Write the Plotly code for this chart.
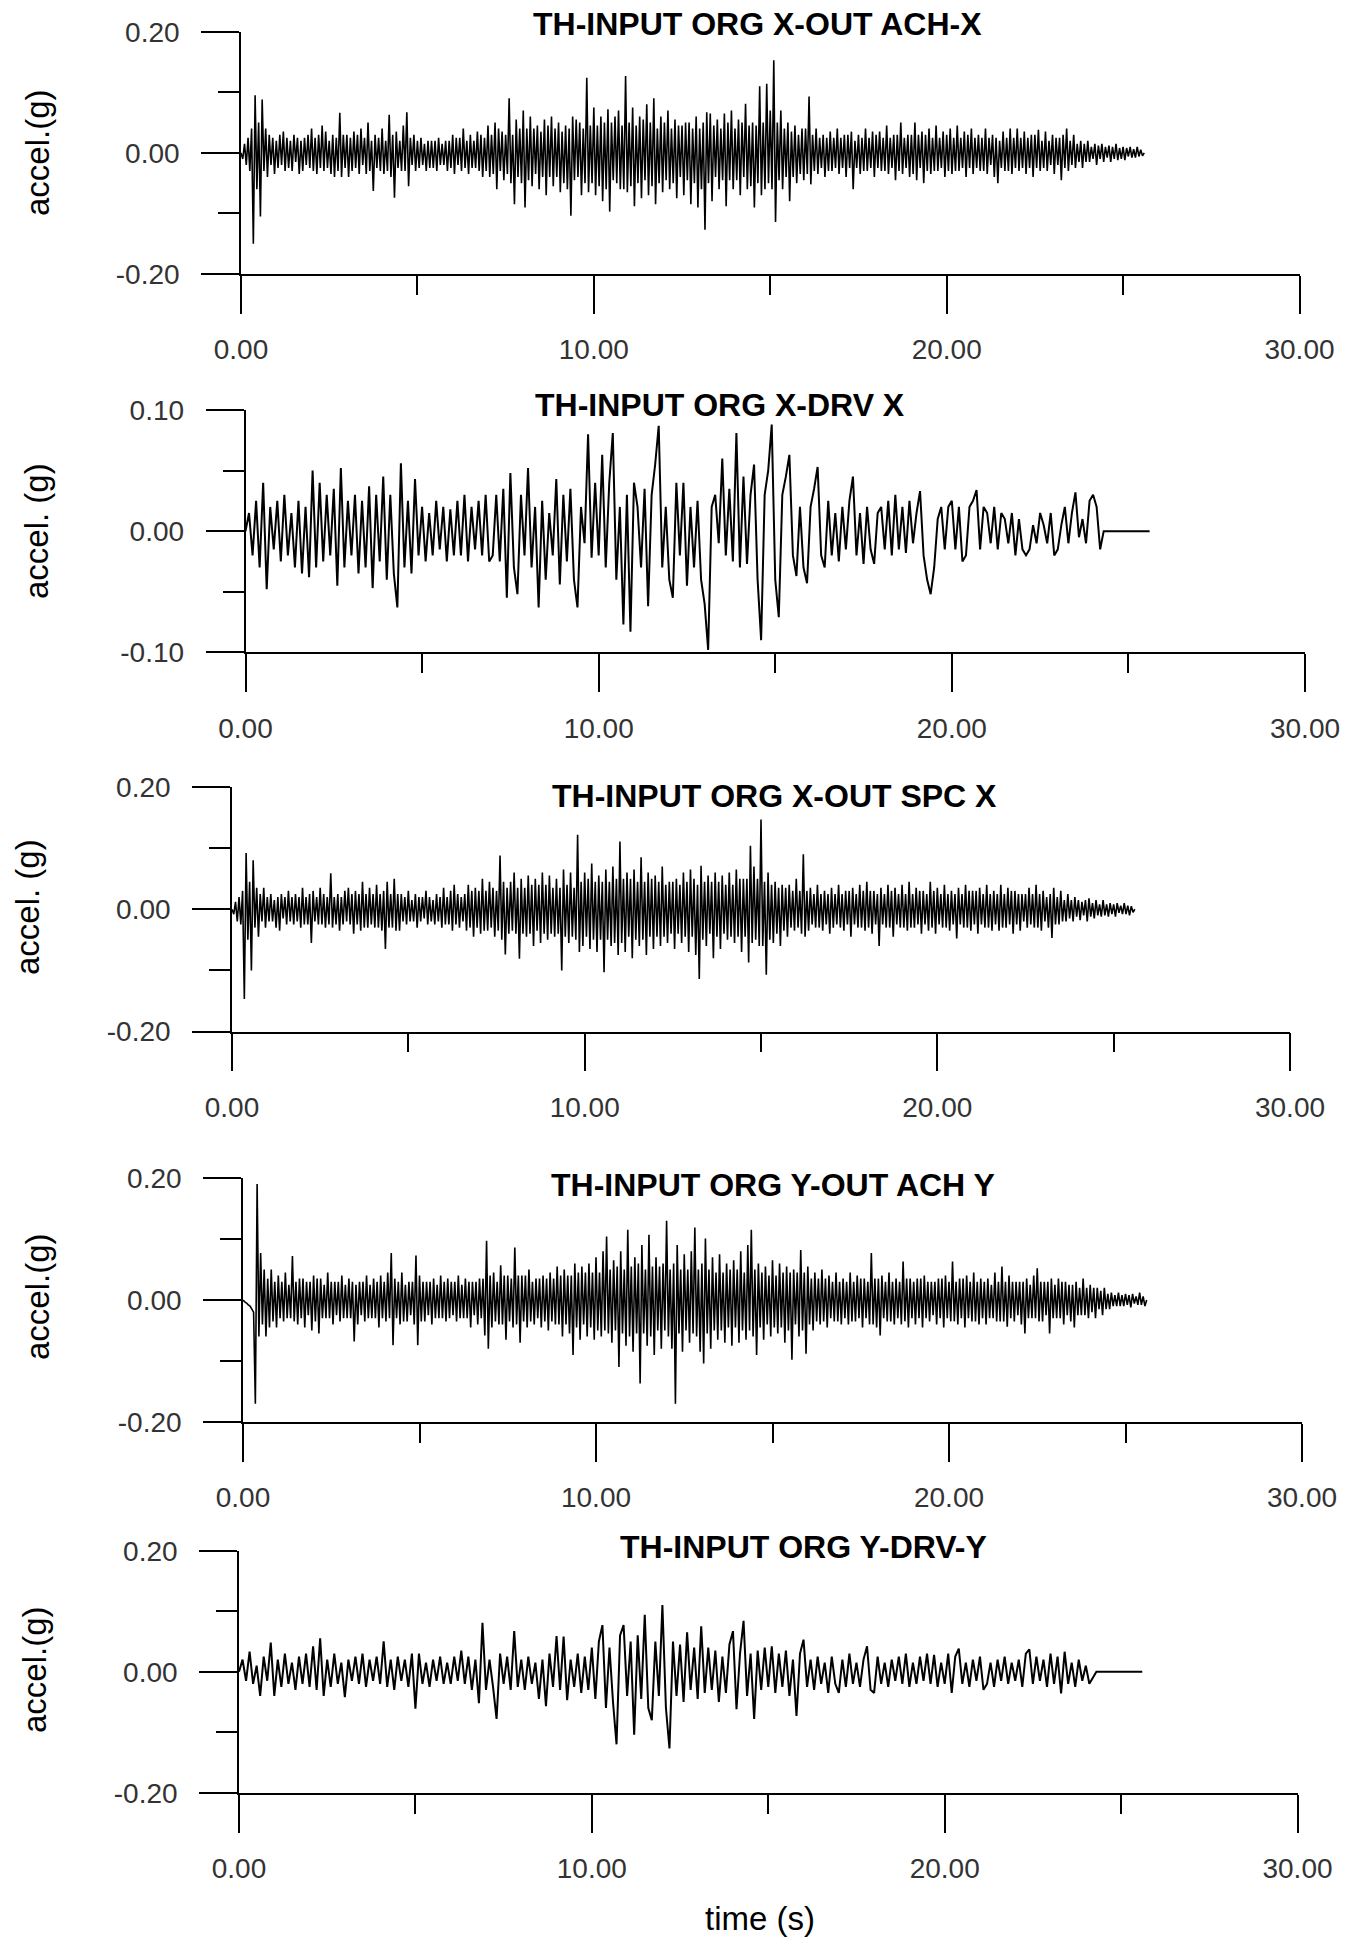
import plotly.graph_objects as go

# ---------------- data (accelerations in milli-g) ----------------
dense_step = 0.05      # s, ACH-X / SPC-X / ACH-Y records
drv_step = 0.1         # s, DRV-X / DRV-Y records
drv_end_time = 25.6    # s, drive records hold zero until here

ach_x_mg = [
    0, -10, 15, -20, 25, -30, 40, -150, 95, -60, 50, -105, 88, -30, 40, -40, 30, -20, 25, -35,
    20, -25, 30, -20, 35, -30, 25, -25, 20, -30, 30, -15, 25, -35, 20, -30, 25, -20, 30, -25,
    40, -30, 25, -35, 30, -25, 45, -30, 35, -25, 20, -35, 30, -40, 25, -30, 66, -40, 30, -25,
    30, -40, 25, -30, 35, -25, 30, -35, 40, -20, 25, -35, 50, -30, 20, -63, 30, -25, 25, -30,
    40, -35, 20, -30, 63, -40, 30, -74, 35, -25, 20, -30, 45, -30, 67, -55, 25, -20, 30, -30,
    20, -25, 25, -20, 15, -30, 20, -25, 20, -25, 20, -30, 25, -20, 15, -20, 20, -30, 20, -25,
    30, -35, 25, -20, 25, -30, 40, -25, 20, -35, 30, -25, 20, -25, 35, -30, 30, -40, 25, -30,
    45, -40, 30, -35, 50, -60, 40, -30, 35, -45, 30, -35, 90, -50, 30, -85, 55, -40, 40, -50,
    70, -90, 40, -45, 60, -55, 40, -35, 45, -60, 35, -40, 55, -70, 45, -40, 60, -55, 40, -40,
    50, -65, 35, -50, 45, -60, 40, -104, 60, -45, 55, -40, 50, -70, 40, -50, 124, -65, 45, -50,
    75, -70, 45, -55, 60, -80, 50, -60, 72, -97, 50, -45, 60, -50, 70, -60, 45, -60, 127, -65,
    50, -55, 75, -88, 45, -50, 60, -75, 55, -45, 80, -70, 50, -55, 90, -85, 40, -50, 60, -65,
    50, -45, 70, -60, 40, -50, 55, -75, 45, -40, 45, -70, 50, -45, 50, -85, 40, -50, 60, -90,
    40, -60, 50, -127, 67, -50, 65, -80, 45, -40, 55, -60, 40, -45, 65, -88, 50, -45, 70, -60,
    40, -45, 55, -70, 50, -40, 81, -60, 45, -55, 50, -90, 45, -50, 110, -70, 50, -60, 114, -50,
    70, -60, 153, -114, 50, -45, 70, -60, 40, -40, 50, -80, 35, -40, 45, -50, 30, -35, 40, -45,
    40, -35, 93, -52, 30, -30, 40, -35, 25, -25, 30, -40, 25, -30, 35, -30, 25, -25, 40, -35,
    25, -25, 30, -40, 30, -25, 35, -60, 20, -25, 30, -35, 25, -30, 40, -30, 25, -25, 35, -40,
    30, -25, 35, -30, 25, -30, 45, -35, 25, -25, 30, -45, 30, -30, 50, -35, 25, -25, 30, -40,
    30, -35, 50, -45, 30, -25, 35, -50, 30, -30, 40, -35, 25, -30, 45, -30, 25, -25, 35, -40,
    30, -30, 40, -35, 25, -30, 45, -30, 25, -25, 35, -40, 30, -25, 40, -35, 25, -25, 30, -30,
    25, -30, 40, -35, 25, -20, 30, -40, 25, -50, 20, -25, 35, -30, 25, -30, 40, -35, 25, -25,
    40, -30, 25, -25, 35, -35, 25, -25, 30, -40, 30, -25, 38, -30, 20, -25, 35, -30, 20, -20,
    30, -35, 25, -20, 25, -45, 30, -25, 40, -30, 20, -20, 30, -25, 15, -15, 20, -25, 15, -15,
    20, -15, 10, -10, 15, -20, 12, -10, 15, -15, 10, -8, 12, -15, 10, -10, 15, -12, 8, -10,
    10, -12, 8, -6, 10, -8, 6, -8, 10, -6, 5, -5, 0,
]

drv_x_mg = [
    0, 15, -20, 25, -30, 40, -48, 20, -15, 25,
    -25, 30, -20, 15, -30, 25, -35, 20, -38, 50,
    -30, 40, -25, 30, -20, 35, -45, 52, -30, 25,
    -20, 30, -35, 25, -30, 37, -47, 30, -25, 45,
    -40, 30, -35, -63, 56, -30, 25, -35, 43, -20,
    20, -25, 15, -20, 25, -15, 20, -25, 18, -20,
    25, -20, 30, -25, 20, -15, 25, -20, 30, -25,
    -20, 30, -25, 35, -55, 48, -30, -52, 30, -20,
    52, -30, 20, -63, 25, -40, 15, -20, 43, -44,
    30, -25, 35, -40, -63, 20, -10, 80, -22, 40,
    -20, 63, -30, 40, 81, -40, 20, -77, 30, -83,
    40, 20, -30, 35, -62, 30, 55, 87, -30, 20,
    -40, -55, 40, -20, 40, -45, 20, -30, 25, -40,
    -60, -98, 20, 30, -10, 60, -20, 35, -25, 81,
    -30, 45, -27, 30, 55, -40, -90, 30, 50, 88,
    -40, -71, 30, 45, 63, -20, -37, 20, -30, -43,
    20, 35, 53, -20, -30, 25, -20, 15, -25, 20,
    -15, 25, 45, -20, 15, -27, 20, -15, -27, 15,
    20, -15, 25, -20, 30, -15, 20, -18, 25, -10,
    15, 33, -20, -40, -52, -30, 10, 20, -15, 20,
    25, -15, 20, -25, -20, 20, 25, 34, -15, 20,
    15, -10, 20, -15, 15, 10, -10, 15, -20, 10,
    -15, -20, -15, 5, -10, 15, 5, -10, 15, -20,
    -15, 5, 20, -10, 15, 32, -5, 10, -10, 25,
    30, 20, -15, 0,
]

spc_x_mg = [
    0, -8, 12, -20, 20, -25, 30, -147, 92, -50, 45, -100, 80, -30, 35, -45, 25, -20, 35, -30,
    20, -20, 25, -20, 15, -30, 20, -35, 25, -15, 20, -25, 30, -20, 20, -25, 25, -20, 20, -30,
    35, -25, 20, -25, 25, -55, 30, -20, 20, -25, 35, -25, 25, -30, 20, -25, 59, -30, 20, -25,
    25, -35, 20, -25, 30, -20, 35, -25, 25, -40, 30, -25, 25, -35, 45, -30, 25, -30, 35, -25,
    25, -30, 40, -30, 25, -35, 30, -65, 45, -30, 25, -30, 50, -35, 25, -35, 25, -20, 20, -25,
    30, -20, 15, -20, 25, -30, 20, -20, 20, -15, 30, -25, 20, -20, 15, -25, 25, -20, 20, -30,
    35, -25, 20, -25, 30, -35, 40, -25, 25, -30, 20, -20, 25, -35, 40, -30, 30, -45, 35, -30,
    30, -40, 50, -35, 30, -35, 45, -30, 35, -45, 30, -35, 88, -50, 45, -74, 35, -40, 45, -35,
    60, -40, 35, -81, 50, -40, 35, -45, 55, -40, 40, -60, 50, -35, 40, -55, 60, -40, 40, -50,
    55, -40, 35, -45, 50, -40, 35, -100, 65, -45, 40, -55, 60, -45, 35, -50, 122, -70, 45, -60,
    60, -45, 50, -65, 75, -50, 45, -70, 55, -50, 45, -103, 65, -50, 45, -60, 70, -55, 50, -75,
    111, -55, 50, -70, 60, -45, 50, -80, 65, -50, 45, -60, 85, -50, 45, -75, 60, -45, 50, -65,
    55, -45, 45, -60, 70, -45, 40, -55, 45, -40, 45, -65, 50, -40, 40, -55, 60, -45, 45, -70,
    65, -45, 50, -75, 40, -114, 71, -50, 45, -60, 55, -40, 45, -80, 60, -45, 45, -65, 55, -40,
    40, -50, 60, -45, 40, -55, 65, -45, 50, -70, 50, -45, 50, -87, 104, -55, 70, -50, 50, -60,
    147, -60, 45, -107, 60, -50, 40, -55, 45, -40, 35, -60, 40, -35, 35, -45, 40, -30, 30, -35,
    50, -30, 30, -40, 90, -45, 30, -35, 35, -25, 25, -30, 40, -30, 25, -35, 30, -25, 25, -40,
    35, -30, 25, -25, 40, -30, 25, -35, 30, -25, 30, -45, 35, -25, 25, -30, 40, -30, 30, -35,
    45, -30, 30, -40, 30, -25, 25, -60, 35, -25, 25, -30, 40, -30, 30, -45, 35, -25, 25, -30,
    40, -30, 25, -35, 45, -30, 25, -30, 35, -25, 30, -40, 30, -25, 25, -35, 45, -30, 30, -40,
    35, -25, 25, -30, 40, -30, 25, -35, 30, -25, 25, -48, 35, -25, 25, -30, 40, -30, 30, -35,
    30, -25, 30, -40, 35, -25, 25, -30, 40, -30, 25, -35, 30, -25, 25, -35, 40, -30, 25, -30,
    35, -25, 30, -40, 30, -25, 25, -35, 25, -20, 25, -30, 35, -25, 25, -30, 40, -30, 25, -35,
    30, -20, 20, -30, 25, -47, 35, -25, 20, -25, 30, -20, 15, -20, 25, -15, 15, -20, 20, -12,
    15, -18, 12, -10, 15, -20, 18, -12, 10, -15, 15, -10, 8, -12, 15, -10, 8, -12, 10, -8,
    8, -12, 10, -6, 6, -8, 10, -8, 6, -10, 5, -5, 0,
]

ach_y_mg = [
    0, -3, -5, -8, -10, -15, -20, -170, 190, -60, 77, -40, 50, -60, 35, -45, 50, -35, 30, -45,
    40, -30, 30, -35, 45, -30, 25, -30, 72, -35, 30, -40, 35, -30, 35, -45, 30, -25, 30, -50,
    40, -35, 35, -55, 35, -30, 25, -30, 45, -30, 30, -40, 30, -25, 30, -35, 40, -30, 25, -30,
    35, -30, 30, -68, 25, -40, 30, -25, 30, -35, 40, -30, 25, -30, 35, -30, 30, -45, 40, -30,
    30, -35, 45, -30, 77, -74, 35, -30, 30, -40, 45, -35, 25, -35, 30, -25, 30, -40, 73, -74,
    40, -35, 30, -35, 30, -25, 30, -40, 35, -30, 25, -30, 40, -30, 30, -35, 35, -30, 30, -25,
    30, -35, 40, -30, 25, -30, 35, -30, 30, -45, 30, -25, 30, -40, 35, -30, 35, -58, 97, -80,
    40, -45, 45, -35, 30, -40, 57, -40, 40, -65, 40, -35, 35, -45, 86, -40, 40, -70, 40, -35,
    40, -45, 50, -35, 30, -40, 35, -30, 35, -45, 40, -35, 35, -50, 45, -35, 35, -40, 55, -40,
    40, -60, 50, -40, 40, -55, 40, -90, 60, -45, 45, -65, 55, -40, 45, -60, 60, -45, 45, -65,
    70, -50, 45, -60, 80, -50, 104, -55, 50, -70, 65, -50, 55, -110, 80, -55, 50, -75, 115, -60,
    55, -85, 70, -55, 60, -137, 90, -55, 50, -75, 107, -60, 55, -90, 70, -50, 55, -80, 60, -50,
    130, -60, 50, -80, 60, -170, 90, -55, 50, -85, 75, -50, 50, -70, 80, -55, 119, -60, 50, -85,
    60, -104, 101, -55, 50, -80, 70, -50, 45, -65, 75, -50, 45, -70, 60, -45, 50, -75, 65, -45,
    50, -70, 80, -50, 45, -65, 90, -50, 115, -60, 50, -90, 60, -45, 45, -65, 55, -40, 40, -60,
    65, -45, 40, -55, 60, -45, 45, -70, 55, -50, 45, -98, 50, -40, 45, -60, 82, -50, 45, -88,
    55, -40, 35, -50, 45, -35, 35, -40, 50, -35, 35, -45, 40, -30, 30, -35, 45, -35, 30, -40,
    35, -30, 30, -40, 45, -35, 30, -35, 40, -30, 35, -45, 35, -30, 30, -40, 77, -40, 35, -45,
    35, -58, 40, -30, 30, -35, 45, -35, 30, -40, 35, -30, 30, -40, 63, -35, 35, -45, 35, -30,
    30, -40, 35, -30, 35, -45, 40, -30, 30, -35, 30, -25, 30, -40, 35, -30, 35, -45, 40, -30,
    30, -35, 63, -35, 30, -40, 35, -30, 35, -45, 40, -30, 30, -35, 45, -35, 30, -40, 35, -30,
    30, -40, 35, -30, 25, -30, 45, -35, 30, -35, 55, -35, 30, -44, 40, -30, 30, -35, 30, -25,
    30, -40, 30, -55, 35, -30, 25, -30, 40, -30, 52, -35, 30, -35, 30, -25, 30, -55, 35, -30,
    25, -30, 35, -30, 30, -40, 30, -25, 25, -35, 25, -45, 30, -25, 20, -25, 35, -25, 20, -30,
    25, -20, 20, -30, 20, -15, 15, -25, 20, -15, 10, -15, 12, -10, 8, -10, 12, -10, 8, -10,
    10, -8, 8, -12, 10, -6, 6, -8, 12, -8, 6, -10, 0,
]

drv_y_mg = [
    0, 20, -15, 33, -20, 10, -40, 25, -15, 48,
    -40, 20, -25, 30, -20, 15, -30, 25, -20, 30,
    -25, 42, -30, 55, -40, 20, -25, 30, -20, 15,
    -42, 20, -15, 25, -20, 30, -25, 20, -15, 25,
    -20, 50, -25, 20, -30, 25, -15, 20, -25, 30,
    -61, 30, -20, 15, -25, 20, -15, 25, -20, 15,
    -20, 25, -15, 35, -20, 25, -30, 20, -52, 81,
    -30, 20, -25, -78, 30, -20, 25, -30, 67, -25,
    20, -30, 25, -20, 15, -45, 20, -57, 30, -25,
    59, -30, 58, -47, 20, -25, 30, -35, 25, -30,
    40, -45, 50, 77, -60, 40, -50, -120, 60, 77,
    -40, 50, -104, 60, -45, 94, -60, -80, 50, -40,
    110, -60, -127, 50, -40, 45, -50, 65, -30, 40,
    -45, 75, -35, 40, -30, 35, -50, 25, -35, 45,
    67, -62, 30, 84, -40, 30, -78, 35, -30, 40,
    -25, 42, -35, 30, -25, 35, -40, 20, -73, 30,
    53, -25, 20, -30, 25, -20, 15, -35, 25, -20,
    -35, 20, -25, 30, -20, 15, -25, 20, 42, -30,
    -35, 25, -20, 15, -25, 20, -15, 25, -20, 30,
    -25, 15, -20, 25, -15, 30, -20, 28, -25, 15,
    -20, 30, -35, 25, 38, -20, 15, -25, 20, -15,
    25, -30, -20, 15, -25, 20, -15, 25, -20, 15,
    -15, 20, -25, 30, 37, -20, 25, -15, 20, -25,
    30, -20, 25, -36, 33, -20, 15, -25, 20, -15,
    10, -20, -10, 0,
]

panel_titles = [
    "TH-INPUT ORG X-OUT ACH-X",
    "TH-INPUT ORG X-DRV X",
    "TH-INPUT ORG X-OUT SPC X",
    "TH-INPUT ORG Y-OUT ACH Y",
    "TH-INPUT ORG Y-DRV-Y",
]
y_titles = ["accel.(g)", "accel. (g)", "accel. (g)", "accel.(g)", "accel.(g)"]
x_title = "time (s)"
x_tick_vals = [0, 10, 20, 30]
x_tick_text = ["0.00", "10.00", "20.00", "30.00"]
x_minor_vals = [5, 15, 25]
y_limits = [0.20, 0.10, 0.20, 0.20, 0.20]
series = [ach_x_mg, drv_x_mg, spc_x_mg, ach_y_mg, drv_y_mg]
steps = [dense_step, drv_step, dense_step, dense_step, drv_step]
hold_to_end = [False, True, False, False, True]

# ---------------- layout geometry (pixels) ----------------
W, H = 1360, 1937
# (left, right, top, bottom) of each plotting box
boxes = [
    (241.0, 1299.5, 31.7, 274.0),
    (245.5, 1305.0, 410.0, 652.3),
    (232.0, 1290.0, 787.0, 1031.5),
    (243.0, 1302.0, 1178.0, 1422.0),
    (239.0, 1297.5, 1550.7, 1792.7),
]
title_pos = [(757, 24), (720, 405), (774.5, 795.5), (772.6, 1184.7), (803.5, 1547)]
ylab_pos = [(37, 153), (37, 531), (27, 907), (37, 1297), (34, 1670)]
xlab_pos = (759.6, 1918)
trace_widths = [1.6, 2.0, 1.6, 1.6, 2.0]

FONT = "Liberation Sans, Arial, sans-serif"
TICK_FONT = dict(family=FONT, size=28, color="#333333")
LINE_W = 1.6

fig = go.Figure()
annotations = []
for i in range(5):
    n = i + 1
    vals = series[i]
    t = [k * steps[i] for k in range(len(vals))]
    y = [v / 1000.0 for v in vals]
    if hold_to_end[i]:
        t.append(drv_end_time)
        y.append(0.0)
    fig.add_trace(go.Scatter(
        x=t, y=y, mode="lines",
        line=dict(color="black", width=trace_widths[i], simplify=False),
        xaxis="x" if n == 1 else f"x{n}",
        yaxis="y" if n == 1 else f"y{n}",
        showlegend=False, hoverinfo="skip",
    ))

    left, right, top, bottom = boxes[i]
    lim = y_limits[i]
    xa = dict(
        domain=[left / W, right / W],
        anchor="y" if n == 1 else f"y{n}",
        range=[0, 30],
        tickmode="array", tickvals=x_tick_vals, ticktext=x_tick_text,
        ticks="outside", ticklen=38, tickwidth=LINE_W, tickcolor="black",
        minor=dict(tickmode="array", tickvals=x_minor_vals, ticks="outside",
                   ticklen=19, tickwidth=LINE_W, tickcolor="black", showgrid=False),
        showline=True, linecolor="black", linewidth=LINE_W,
        showgrid=False, zeroline=False, automargin=False,
        tickfont=TICK_FONT, ticklabelstandoff=12,
        fixedrange=True,
    )
    ya = dict(
        domain=[1 - bottom / H, 1 - top / H],
        anchor="x" if n == 1 else f"x{n}",
        range=[-lim, lim],
        tickmode="array", tickvals=[-lim, 0, lim],
        ticktext=[f"{-lim:.2f}", "0.00", f"{lim:.2f}"],
        ticks="outside", ticklen=38, tickwidth=LINE_W, tickcolor="black",
        minor=dict(tickmode="array", tickvals=[-lim / 2, lim / 2], ticks="outside",
                   ticklen=21, tickwidth=LINE_W, tickcolor="black", showgrid=False),
        showline=True, linecolor="black", linewidth=LINE_W,
        showgrid=False, zeroline=False, automargin=False,
        tickfont=TICK_FONT, ticklabelstandoff=16,
        fixedrange=True,
    )
    fig.update_layout(**{("xaxis" if n == 1 else f"xaxis{n}"): xa,
                         ("yaxis" if n == 1 else f"yaxis{n}"): ya})

    tx, ty = title_pos[i]
    annotations.append(dict(
        text=panel_titles[i], xref="paper", yref="paper",
        x=tx / W, y=1 - ty / H, xanchor="center", yanchor="middle",
        showarrow=False,
        font=dict(family=FONT, size=32, color="black", weight="bold"),
    ))
    lx, ly = ylab_pos[i]
    annotations.append(dict(
        text=y_titles[i], xref="paper", yref="paper",
        x=lx / W, y=1 - ly / H, xanchor="center", yanchor="middle",
        textangle=-90, showarrow=False,
        font=dict(family=FONT, size=33, color="black"),
    ))

annotations.append(dict(
    text=x_title, xref="paper", yref="paper",
    x=xlab_pos[0] / W, y=1 - xlab_pos[1] / H, xanchor="center", yanchor="middle",
    showarrow=False,
    font=dict(family=FONT, size=33, color="black"),
))

fig.update_layout(
    width=W, height=H,
    margin=dict(l=0, r=0, t=0, b=0, pad=0, autoexpand=False),
    paper_bgcolor="white", plot_bgcolor="white",
    showlegend=False,
    annotations=annotations,
)

fig.write_html("out.html", config={"displayModeBar": False})
